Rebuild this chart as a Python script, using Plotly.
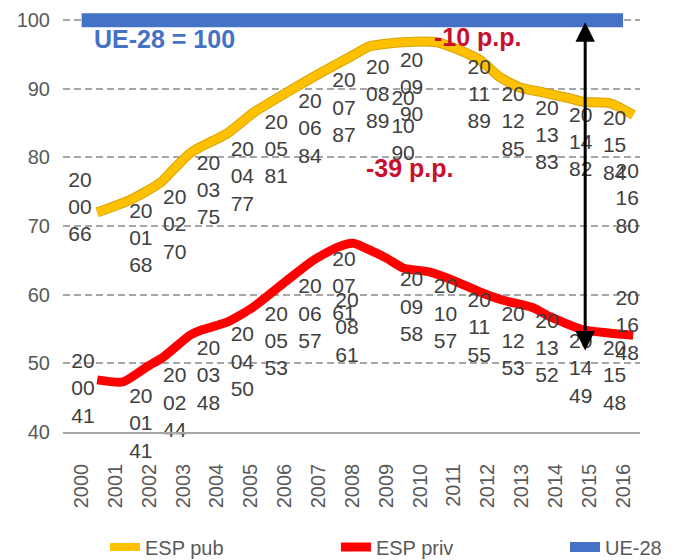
import plotly.graph_objects as go

# ---------------- data ----------------
years = list(range(2000, 2017))
pub_labels = [66, 68, 70, 75, 77, 81, 84, 87, 89, 90, 90, 89, 85, 83, 82, 84, 80]
priv_labels = [41, 41, 44, 48, 50, 53, 57, 61, 61, 58, 57, 55, 53, 52, 49, 48, 48]

pub_t = [2000.46, 2001.43, 2002.32, 2002.70, 2003.20, 2003.50, 2004.30, 2005.07, 2006.07,
         2007.05, 2008.02, 2008.52, 2009.50, 2010.50, 2011.18, 2011.77, 2012.36, 2012.95,
         2013.63, 2014.43, 2014.82, 2015.62, 2016.30]
pub_v = [72.0, 73.8, 76.3, 78.2, 80.6, 81.5, 83.5, 86.5, 89.5, 92.3, 94.9, 96.2, 96.8, 96.8,
         95.6, 94.2, 91.7, 90.2, 89.5, 88.6, 88.1, 87.9, 86.2]

priv_t = [2000.46, 2001.22, 2001.93, 2002.41, 2003.20, 2003.50, 2004.30, 2005.07, 2006.07,
          2006.84, 2007.55, 2008.02, 2008.52, 2009.02, 2009.50, 2010.30, 2010.98, 2011.77,
          2012.45, 2013.34, 2013.84, 2014.82, 2015.62, 2016.30]
priv_v = [47.6, 47.3, 49.5, 50.9, 54.1, 54.8, 56.0, 58.2, 62.1, 65.0, 66.9, 67.5, 66.5, 65.3,
          63.9, 63.3, 62.1, 60.4, 59.2, 58.1, 56.8, 54.9, 54.4, 54.1]

ue_value = 100
ue_years = [2000, 2016]

y_ticks = [40, 50, 60, 70, 80, 90, 100]

# ---------------- layout helpers ----------------
FONT = "Liberation Sans, Arial, sans-serif"
LABEL_DX = 0.75
pub_shift = {2000: (-0.80, 6.5), 2010: (-1.25, -5.6), 2015: (0.0, -2.5), 2016: (-0.63, -6.2)}
priv_shift = {2000: (-0.71, 5.1), 2008: (-0.91, -6.0), 2016: (-0.63, 7.3)}


def label_trace(vals, shifts):
    xs, ys, txt = [], [], []
    for yr, v in zip(years, vals):
        dx, dy = shifts.get(yr, (0.0, 0.0))
        xs.append(yr + LABEL_DX + dx)
        ys.append(v + dy)
        s = str(yr)
        txt.append(f"{s[:2]}<br>{s[2:]}<br>{v}")
    return go.Scatter(x=xs, y=ys, mode="text", text=txt, textposition="middle center",
                      textfont=dict(family=FONT, size=21, color="#404040"),
                      showlegend=False, hoverinfo="skip", cliponaxis=False)


fig = go.Figure()

# outline under yellow line
fig.add_trace(go.Scatter(x=pub_t, y=pub_v, mode="lines", showlegend=False, hoverinfo="skip",
                         line=dict(color="#D9A400", width=10, shape="spline", smoothing=0.6)))
fig.add_trace(go.Scatter(x=pub_t, y=pub_v, mode="lines", name="ESP pub", legend="legend",
                         line=dict(color="#FFC000", width=8, shape="spline", smoothing=0.6)))
fig.add_trace(go.Scatter(x=priv_t, y=priv_v, mode="lines", name="ESP priv", legend="legend2",
                         line=dict(color="#FF0000", width=9, shape="spline", smoothing=0.6)))
fig.add_trace(go.Scatter(x=ue_years, y=[ue_value] * len(ue_years), mode="lines", name="UE-28",
                         legend="legend3", line=dict(color="#4472C4", width=14)))

fig.add_trace(label_trace(pub_labels, pub_shift))
fig.add_trace(label_trace(priv_labels, priv_shift))

annotations = [
    dict(x=2002.45, y=97.2, xref="x", yref="y", text="<b>UE-28 = 100</b>", showarrow=False,
         font=dict(family=FONT, size=25, color="#4472C4")),
    dict(x=2011.7, y=97.5, xref="x", yref="y", text="<b>-10 p.p.</b>", showarrow=False,
         font=dict(family=FONT, size=25, color="#C8102E")),
    dict(x=2009.7, y=78.4, xref="x", yref="y", text="<b>-39 p.p.</b>", showarrow=False,
         font=dict(family=FONT, size=25, color="#C8102E")),
    dict(x=2014.88, y=99.7, ax=2014.88, ay=51.65, xref="x", yref="y", axref="x", ayref="y",
         text="", showarrow=True, arrowhead=2, arrowside="end+start", arrowsize=1.3,
         arrowwidth=3, arrowcolor="#000000", standoff=0, startstandoff=0),
]

leg_common = dict(orientation="h", y=-0.274, xanchor="left", yanchor="middle",
                  bgcolor="rgba(0,0,0,0)",
                  font=dict(family=FONT, size=20, color="#595959"))

fig.update_layout(
    width=678, height=560,
    margin=dict(l=63, r=38, t=12, b=128, autoexpand=False),
    paper_bgcolor="white", plot_bgcolor="white",
    font=dict(family=FONT, color="#595959"),
    annotations=annotations,
    legend=dict(x=0.0728, **leg_common),
    legend2=dict(x=0.473, **leg_common),
    legend3=dict(x=0.870, **leg_common),
    xaxis=dict(range=[1999.45, 2016.5], tickmode="array", tickvals=years,
               ticktext=[str(y) for y in years], tickangle=-90,
               tickfont=dict(family=FONT, size=20, color="#595959"),
               showgrid=False, zeroline=False, showline=True, linecolor="#A6A6A6",
               linewidth=1.5, ticks="", ticklabelstandoff=22, automargin=False),
    yaxis=dict(range=[40, 101.2], tickmode="array", tickvals=y_ticks,
               tickfont=dict(family=FONT, size=20, color="#595959"),
               showgrid=True, gridcolor="#A6A6A6", gridwidth=1.5, griddash="7px,4px",
               zeroline=False, ticks="", ticklabelstandoff=12, automargin=False),
)

fig.write_html("out.html", config={"displayModeBar": False},
               post_script="document.body.style.margin='0px';")
